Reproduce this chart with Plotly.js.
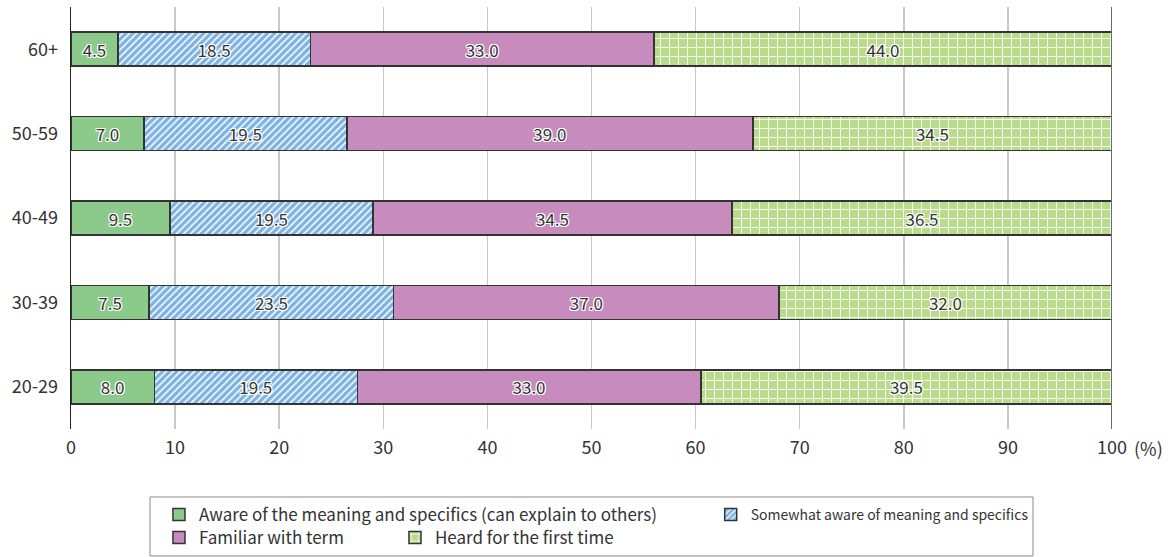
<!DOCTYPE html>
<html>
<head>
<meta charset="utf-8">
<script src="https://cdn.plot.ly/plotly-3.0.1.min.js"></script>
<style>
  html, body { margin: 0; padding: 0; background: #fff; }
  #chart { width: 1170px; height: 557px; }
</style>
</head>
<body>
<div id="chart"></div>
<script>
// Age groups, bottom to top
const ageGroups = ['20-29', '30-39', '40-49', '50-59', '60+'];

// Share of respondents (%) per awareness level, same order as ageGroups
const awareSpecifics   = [8.0, 7.5, 9.5, 7.0, 4.5];
const somewhatAware    = [19.5, 23.5, 19.5, 19.5, 18.5];
const familiarWithTerm = [33.0, 37.0, 34.5, 39.0, 33.0];
const heardFirstTime   = [39.5, 32.0, 36.5, 34.5, 44.0];

const seriesNames = [
  'Aware of the meaning and specifics (can explain to others)',
  'Somewhat aware of meaning and specifics',
  'Familiar with term',
  'Heard for the first time'
];

const xTickValues = [0, 10, 20, 30, 40, 50, 60, 70, 80, 90, 100];

const FONT = '"Noto Sans CJK JP", "Noto Sans", sans-serif';
const TEXT_COLOR = '#333333';
const haloShadow = '1px 1px 0 #fff, -1px -1px 0 #fff, 1px -1px 0 #fff, -1px 1px 0 #fff, 0 1px 0 #fff, 0 -1px 0 #fff, 1px 0 0 #fff, -1px 0 0 #fff';

function barTrace(values, name, color, pattern, legendRef, legendWidth) {
  const trace = {
    type: 'bar',
    orientation: 'h',
    y: ageGroups,
    x: values,
    name: name,
    legend: legendRef,
    showlegend: true,
    marker: {
      color: color,
      line: { color: '#333333', width: 1.5 },
      pattern: pattern
    },
    texttemplate: '%{x:.1f}',
    textposition: 'inside',
    insidetextanchor: 'middle',
    textangle: 0,
    constraintext: 'none',
    textfont: { family: FONT, size: 17, color: TEXT_COLOR, shadow: haloShadow },
    hoverinfo: 'name+x+y'
  };
  if (legendWidth) trace.legendwidth = legendWidth;
  return trace;
}

const traces = [
  barTrace(awareSpecifics, seriesNames[0], '#8bca8b', { shape: '' }, 'legend', null),
  barTrace(somewhatAware, seriesNames[1], '#7db3e3',
    { shape: '/', fgcolor: '#ffffff', bgcolor: '#7db3e3', size: 5, solidity: 0.3 }, 'legend3', null),
  barTrace(familiarWithTerm, seriesNames[2], '#c88bbe', { shape: '' }, 'legend2', 191),
  barTrace(heardFirstTime, seriesNames[3], '#badb8b',
    { shape: '+', fgcolor: '#ffffff', bgcolor: '#badb8b', size: 9, solidity: 0.18 }, 'legend2', 250)
];

const legendStyle = {
  orientation: 'h',
  xanchor: 'left',
  yanchor: 'middle',
  x: 0.0845,
  font: { family: FONT, size: 17, color: TEXT_COLOR },
  bgcolor: 'rgba(0,0,0,0)',
  borderwidth: 0,
  traceorder: 'normal',
  itemclick: false,
  itemdoubleclick: false,
  visible: true
};

const layout = {
  width: 1170,
  height: 557,
  showlegend: true,
  margin: { l: 71, r: 58, t: 7, b: 128, autoexpand: false },
  paper_bgcolor: '#ffffff',
  plot_bgcolor: '#ffffff',
  barmode: 'stack',
  bargap: 0.597,
  font: { family: FONT, size: 18, color: TEXT_COLOR },
  uniformtext: { minsize: 17, mode: 'show' },
  xaxis: {
    range: [0, 100],
    tickvals: xTickValues,
    ticktext: xTickValues.map(String),
    showgrid: true,
    gridcolor: '#c8c8c8',
    gridwidth: 1.5,
    zeroline: false,
    showline: false,
    ticks: '',
    ticklabelstandoff: 6,
    tickfont: { family: FONT, size: 18, color: TEXT_COLOR },
    fixedrange: true
  },
  yaxis: {
    type: 'category',
    showgrid: false,
    showline: true,
    linecolor: '#222222',
    linewidth: 1.5,
    ticks: '',
    ticklabelstandoff: 8,
    tickfont: { family: FONT, size: 18, color: TEXT_COLOR },
    fixedrange: true
  },
  legend: Object.assign({}, legendStyle, { y: -0.2038 }),
  legend2: Object.assign({}, legendStyle, { y: -0.2583 }),
  legend3: Object.assign({}, legendStyle, { x: 0.6145, y: -0.2038,
    font: { family: FONT, size: 14, color: TEXT_COLOR } }),
  shapes: [
    // closing line at 100 %
    { type: 'line', xref: 'x', yref: 'paper', x0: 100, x1: 100, y0: 0, y1: 1,
      line: { color: '#6a6a6a', width: 2 } },
    // frame around the legend rows
    { type: 'rect', xref: 'paper', yref: 'paper', x0: 0.0759, x1: 0.9241, y0: -0.3009, y1: -0.1611,
      line: { color: '#8a8a8a', width: 1 }, fillcolor: 'rgba(0,0,0,0)', layer: 'below' }
  ],
  annotations: [
    { xref: 'x', yref: 'paper', x: 100, y: -0.045, xanchor: 'left', yanchor: 'middle',
      xshift: 20, text: '(%)', showarrow: false,
      font: { family: FONT, size: 18, color: TEXT_COLOR } }
  ]
};

Plotly.newPlot('chart', traces, layout, { displayModeBar: false, staticPlot: true });
</script>
</body>
</html>
